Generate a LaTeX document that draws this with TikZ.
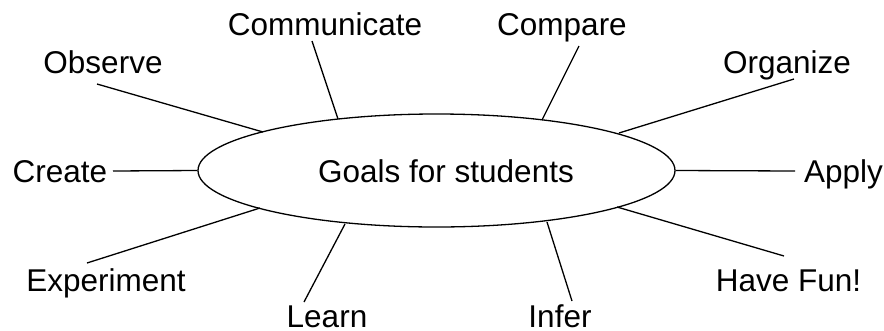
\documentclass[tikz,border=0pt]{standalone}
\usepackage{fontspec}
\setmainfont{Liberation Sans}
\usetikzlibrary{shapes.geometric}
\begin{document}
\begin{tikzpicture}[x=1pt,y=-1pt,
  lbl/.style={anchor=base,inner sep=0pt,font=\fontsize{31.5}{36}\selectfont},
  link/.style={line width=1.3pt,black}]
\useasboundingbox (0,0) rectangle (884,330);
\node[ellipse,draw,line width=1.3pt,minimum width=477pt,minimum height=113pt,inner sep=0pt] (g) at (436.5,170.5) {};
\node[lbl] (goal) at (446,182) {Goals for students};
\node[lbl] (obs) at (103,73) {Observe};
\node[lbl] (com) at (325,35) {Communicate};
\node[lbl] (cmp) at (562,35) {Compare};
\node[lbl] (org) at (787,73) {Organize};
\node[lbl] (cre) at (60,182) {Create};
\node[lbl] (app) at (843.5,182) {Apply};
\node[lbl] (exp) at (106,291) {Experiment};
\node[lbl] (lea) at (327,327) {Learn};
\node[lbl] (inf) at (560,327) {Infer};
\node[lbl] (fun) at (788.5,291) {Have Fun!};
% outer ends
\coordinate (obs-o) at (97,84);
\coordinate (com-o) at (312,41);
\coordinate (cmp-o) at (579,46);
\coordinate (org-o) at (794,79);
\coordinate (cre-o) at (113,171);
\coordinate (app-o) at (795,171);
\coordinate (exp-o) at (87,263);
\coordinate (lea-o) at (304,302);
\coordinate (inf-o) at (572,301);
\coordinate (fun-o) at (784,256);
% inner ends on ellipse
\coordinate (obs-i) at (263,132);
\coordinate (com-i) at (338,119);
\coordinate (cmp-i) at (542,120);
\coordinate (org-i) at (619,133);
\coordinate (exp-i) at (260,208);
\coordinate (lea-i) at (345,224);
\coordinate (inf-i) at (547,222);
\coordinate (fun-i) at (617,207);
\draw[link] (obs-o) -- (obs-i);
\draw[link] (com-o) -- (com-i);
\draw[link] (cmp-o) -- (cmp-i);
\draw[link] (org-o) -- (org-i);
\draw[link] (cre-o) -- (g.west);
\draw[link] (g.east) -- (app-o);
\draw[link] (exp-o) -- (exp-i);
\draw[link] (lea-o) -- (lea-i);
\draw[link] (inf-o) -- (inf-i);
\draw[link] (fun-o) -- (fun-i);
\end{tikzpicture}
\end{document}
